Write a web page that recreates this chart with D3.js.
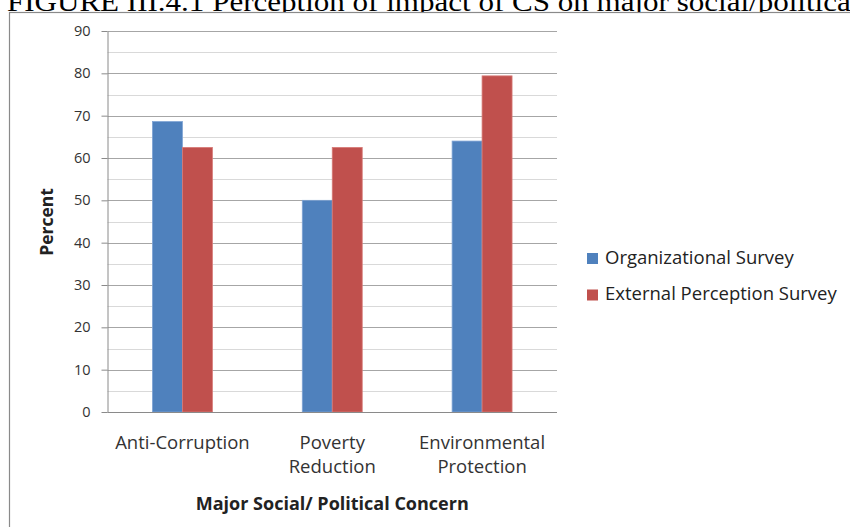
<!DOCTYPE html>
<html>
<head>
<meta charset="utf-8">
<script src="https://cdn.jsdelivr.net/npm/d3@7"></script>
<style>
  html, body { margin: 0; padding: 0; background: #ffffff; }
  svg { display: block; }
</style>
</head>
<body>
<svg id="chart" width="850" height="527"></svg>
<script>
// Perception of impact of CS on major social/political concerns
const categories = ["Anti-Corruption", "Poverty Reduction", "Environmental Protection"];
const seriesNames = ["Organizational Survey", "External Perception Survey"];
const organizationalSurvey = [68.6, 50, 64];
const externalPerceptionSurvey = [62.5, 62.5, 79.4];
const yTicks = [0, 10, 20, 30, 40, 50, 60, 70, 80, 90];
const yMinorTicks = [5, 15, 25, 35, 45, 55, 65, 75, 85];
const seriesColors = ["#4F81BD", "#C0504D"];
const seriesStrokes = ["#7ea3d4", "#d77a77"];

const seriesValues = [organizationalSurvey, externalPerceptionSurvey];
const rows = categories.map((c, i) => ({
  category: c,
  values: seriesNames.map((s, j) => ({ series: s, index: j, value: seriesValues[j][i] }))
}));

const svg = d3.select("#chart");
const font = "'Open Sans', 'Noto Sans', sans-serif";

// Page title above the chart frame (runs past the top and right edges)
svg.append("text")
  .attr("transform", "translate(7,11) scale(1.15,1)")
  .attr("font-family", "'Liberation Serif', 'Times New Roman', serif")
  .attr("font-size", 27)
  .attr("fill", "#000")
  .text("FIGURE III.4.1 Perception of impact of CS on major social/political concerns");

// Chart frame (runs past the right and bottom edges)
svg.append("rect")
  .attr("x", 9.5).attr("y", 12.5)
  .attr("width", 900).attr("height", 600)
  .attr("fill", "#fff")
  .attr("stroke", "#8a8a8a")
  .attr("stroke-width", 1.2);

const plot = { left: 107.5, right: 557, top: 31, bottom: 412 };

const x = d3.scaleBand()
  .domain(categories)
  .range([plot.left, plot.right])
  .paddingInner(0.6)
  .paddingOuter(0.3);

const xInner = d3.scaleBand()
  .domain(seriesNames)
  .range([0, x.bandwidth()]);

const y = d3.scaleLinear()
  .domain([0, 90])
  .range([plot.bottom, plot.top]);

// Minor gridlines
svg.append("g")
  .selectAll("line")
  .data(yMinorTicks)
  .join("line")
  .attr("x1", plot.left).attr("x2", plot.right)
  .attr("y1", d => Math.round(y(d)) + 0.5).attr("y2", d => Math.round(y(d)) + 0.5)
  .attr("stroke", "#d9d9d9")
  .attr("stroke-width", 1);

// Major gridlines
svg.append("g")
  .selectAll("line")
  .data(yTicks.filter(d => d > 0))
  .join("line")
  .attr("x1", plot.left).attr("x2", plot.right)
  .attr("y1", d => Math.round(y(d)) + 0.5).attr("y2", d => Math.round(y(d)) + 0.5)
  .attr("stroke", "#a6a6a6")
  .attr("stroke-width", 1);

// Bars
svg.append("g")
  .selectAll("g")
  .data(rows)
  .join("g")
  .attr("transform", d => `translate(${x(d.category)},0)`)
  .selectAll("rect")
  .data(d => d.values)
  .join("rect")
  .attr("x", d => xInner(d.series))
  .attr("y", d => y(d.value))
  .attr("width", xInner.bandwidth())
  .attr("height", d => y(0) - y(d.value))
  .attr("fill", d => seriesColors[d.index])
  .attr("stroke", d => seriesStrokes[d.index])
  .attr("stroke-width", 0.8);

// Y axis
const yAxis = svg.append("g")
  .attr("transform", `translate(${plot.left},0)`)
  .call(d3.axisLeft(y).tickValues(yTicks).tickSize(6).tickSizeOuter(0).tickPadding(11));
yAxis.select(".domain").attr("stroke", "#8a8a8a");
yAxis.selectAll(".tick line").attr("stroke", "#8a8a8a");
yAxis.selectAll(".tick text")
  .attr("font-family", font)
  .attr("font-size", 14.5)
  .attr("fill", "#333");

// X axis baseline
svg.append("line")
  .attr("x1", plot.left).attr("x2", plot.right)
  .attr("y1", plot.bottom + 0.5).attr("y2", plot.bottom + 0.5)
  .attr("stroke", "#8a8a8a");

// Category labels (wrapped on spaces)
const xLabels = svg.append("g")
  .selectAll("text")
  .data(categories)
  .join("text")
  .attr("x", d => x(d) + x.bandwidth() / 2)
  .attr("y", 449)
  .attr("text-anchor", "middle")
  .attr("font-family", font)
  .attr("font-size", 18.5)
  .attr("fill", "#333");
xLabels.selectAll("tspan")
  .data(d => d.split(" "))
  .join("tspan")
  .attr("x", function () { return d3.select(this.parentNode).attr("x"); })
  .attr("dy", (d, i) => i === 0 ? 0 : 24)
  .text(d => d);

// Axis titles
svg.append("text")
  .attr("x", plot.left + (plot.right - plot.left) / 2)
  .attr("y", 510)
  .attr("text-anchor", "middle")
  .attr("font-family", font)
  .attr("font-weight", "bold")
  .attr("font-size", 18)
  .attr("fill", "#222")
  .text("Major Social/ Political Concern");

svg.append("text")
  .attr("transform", "translate(53,222) rotate(-90)")
  .attr("text-anchor", "middle")
  .attr("font-family", font)
  .attr("font-weight", "bold")
  .attr("font-size", 17.5)
  .attr("fill", "#222")
  .text("Percent");

// Legend
const legend = svg.append("g")
  .selectAll("g")
  .data(seriesNames)
  .join("g")
  .attr("transform", (d, i) => `translate(587,${253 + i * 36.5})`);
legend.append("rect")
  .attr("width", 11).attr("height", 11)
  .attr("fill", (d, i) => seriesColors[i]);
legend.append("text")
  .attr("x", 18)
  .attr("y", 10.5)
  .attr("font-family", font)
  .attr("font-size", 18.5)
  .attr("fill", "#222")
  .text(d => d);
</script>
</body>
</html>
